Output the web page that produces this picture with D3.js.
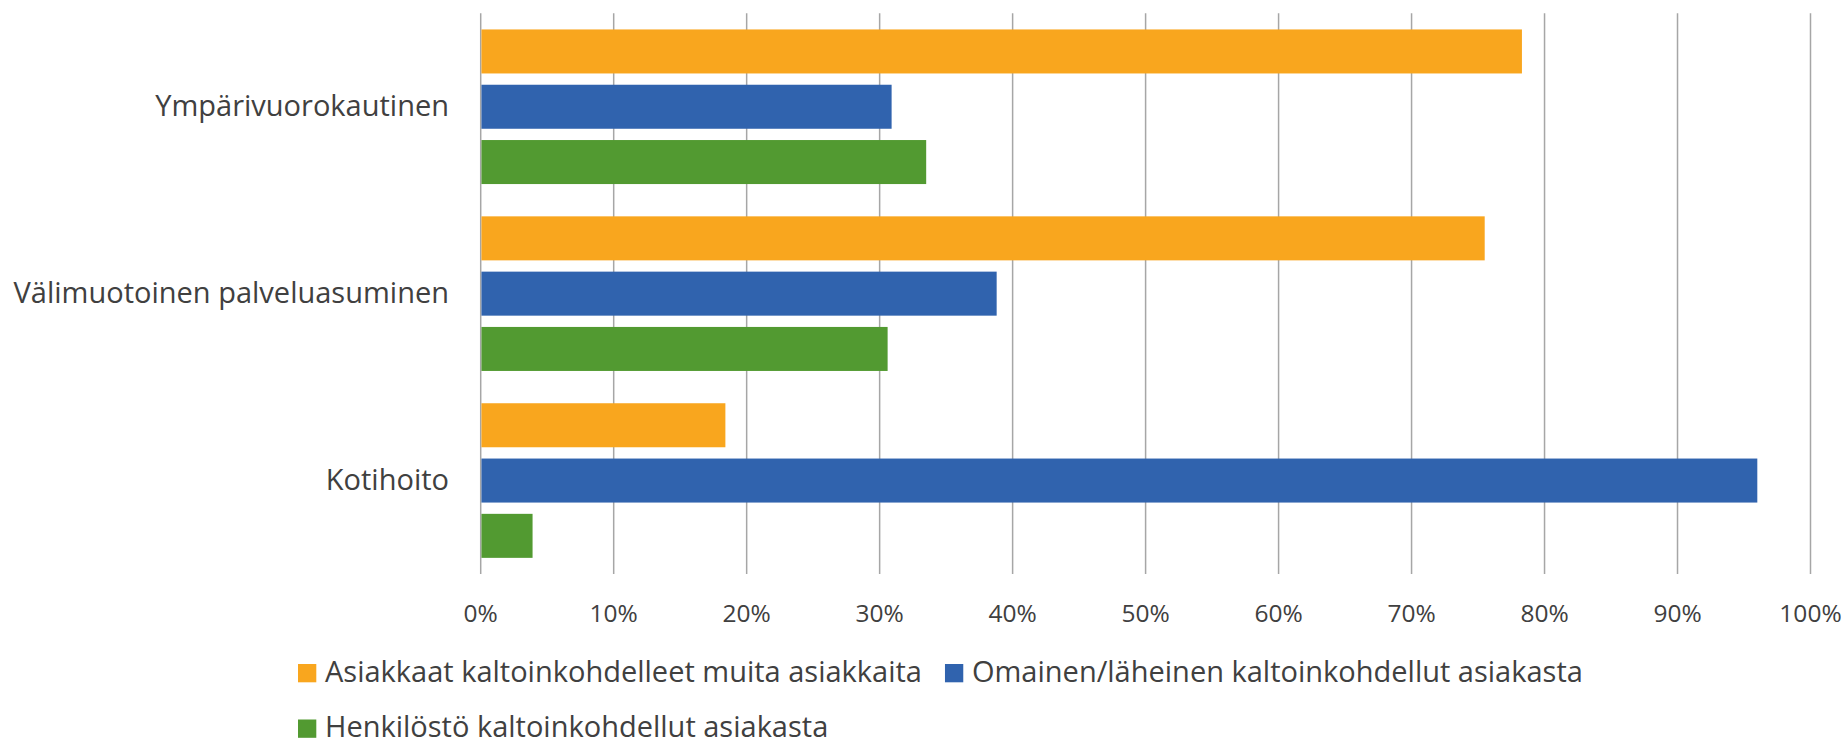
<!DOCTYPE html>
<html>
<head>
<meta charset="utf-8">
<script src="https://cdn.jsdelivr.net/npm/d3@7"></script>
<style>
  html, body { margin: 0; padding: 0; background: #ffffff; }
  svg { display: block; }
  text { font-family: "Open Sans", "Noto Sans", sans-serif; fill: #404040; }
</style>
</head>
<body>
<svg id="chart" width="1847" height="741"></svg>
<script>
// ---- data ----
const categories = ["Ympärivuorokautinen", "Välimuotoinen palveluasuminen", "Kotihoito"];
const seriesNames = [
  "Asiakkaat kaltoinkohdelleet muita asiakkaita",
  "Omainen/läheinen kaltoinkohdellut asiakasta",
  "Henkilöstö kaltoinkohdellut asiakasta"
];
const asiakkaat = [0.783, 0.755, 0.184];
const omainen   = [0.309, 0.388, 0.960];
const henkilosto = [0.335, 0.306, 0.039];
const tickValues = [0, 0.1, 0.2, 0.3, 0.4, 0.5, 0.6, 0.7, 0.8, 0.9, 1.0];
const tickLabels = ["0%", "10%", "20%", "30%", "40%", "50%", "60%", "70%", "80%", "90%", "100%"];
const colors = ["#F9A61E", "#3063AE", "#529A31"];

const seriesValues = [asiakkaat, omainen, henkilosto];

// ---- layout ----
const plot = { left: 480.7, right: 1810.5, top: 13.3, bottom: 574 };
const svg = d3.select("#chart");

const x = d3.scaleLinear().domain([0, 1]).range([plot.left, plot.right]);
const y0 = d3.scaleBand().domain(categories).range([plot.top, plot.bottom]).padding(0);
const y1 = d3.scaleBand().domain(d3.range(seriesNames.length))
  .range([0, y0.bandwidth()]).paddingInner(0.204).paddingOuter(0.292);

// gridlines
svg.append("g").selectAll("line").data(tickValues).join("line")
  .attr("x1", d => x(d)).attr("x2", d => x(d))
  .attr("y1", plot.top).attr("y2", plot.bottom)
  .attr("stroke", "#a6a6a6").attr("stroke-width", 1.5);

// bars
const groups = svg.append("g").selectAll("g").data(categories).join("g")
  .attr("transform", c => `translate(0,${y0(c)})`);
groups.selectAll("rect")
  .data((c, ci) => seriesValues.map((vals, si) => ({ si, v: vals[ci] })))
  .join("rect")
  .attr("x", x(0) + 0.75)
  .attr("y", d => y1(d.si))
  .attr("width", d => x(d.v) - x(0) - 0.75)
  .attr("height", y1.bandwidth())
  .attr("fill", d => colors[d.si]);

// category labels
svg.append("g").selectAll("text").data(categories).join("text")
  .attr("x", 449)
  .attr("y", c => y0(c) + y0.bandwidth() / 2 + 9.5)
  .attr("text-anchor", "end")
  .style("font-size", "29px")
  .text(c => c);

// x tick labels
svg.append("g").selectAll("text").data(tickValues).join("text")
  .attr("x", d => x(d))
  .attr("y", plot.bottom + 47.7)
  .attr("text-anchor", "middle")
  .style("font-size", "24.5px")
  .text((d, i) => tickLabels[i]);

// legend
const legend = svg.append("g");
const rows = [[0, 1], [2]];
const rowY = [664, 719.5];
rows.forEach((row, ri) => {
  let cx = 298;
  row.forEach(si => {
    legend.append("rect").attr("x", cx).attr("y", rowY[ri])
      .attr("width", 18.3).attr("height", 18.3).attr("fill", colors[si]);
    const t = legend.append("text")
      .attr("x", cx + 27)
      .attr("y", rowY[ri] + 17.8)
      .style("font-size", "29px")
      .text(seriesNames[si]);
    const w = t.node().getComputedTextLength();
    cx = cx + 27 + w + 23;
  });
});
</script>
</body>
</html>
